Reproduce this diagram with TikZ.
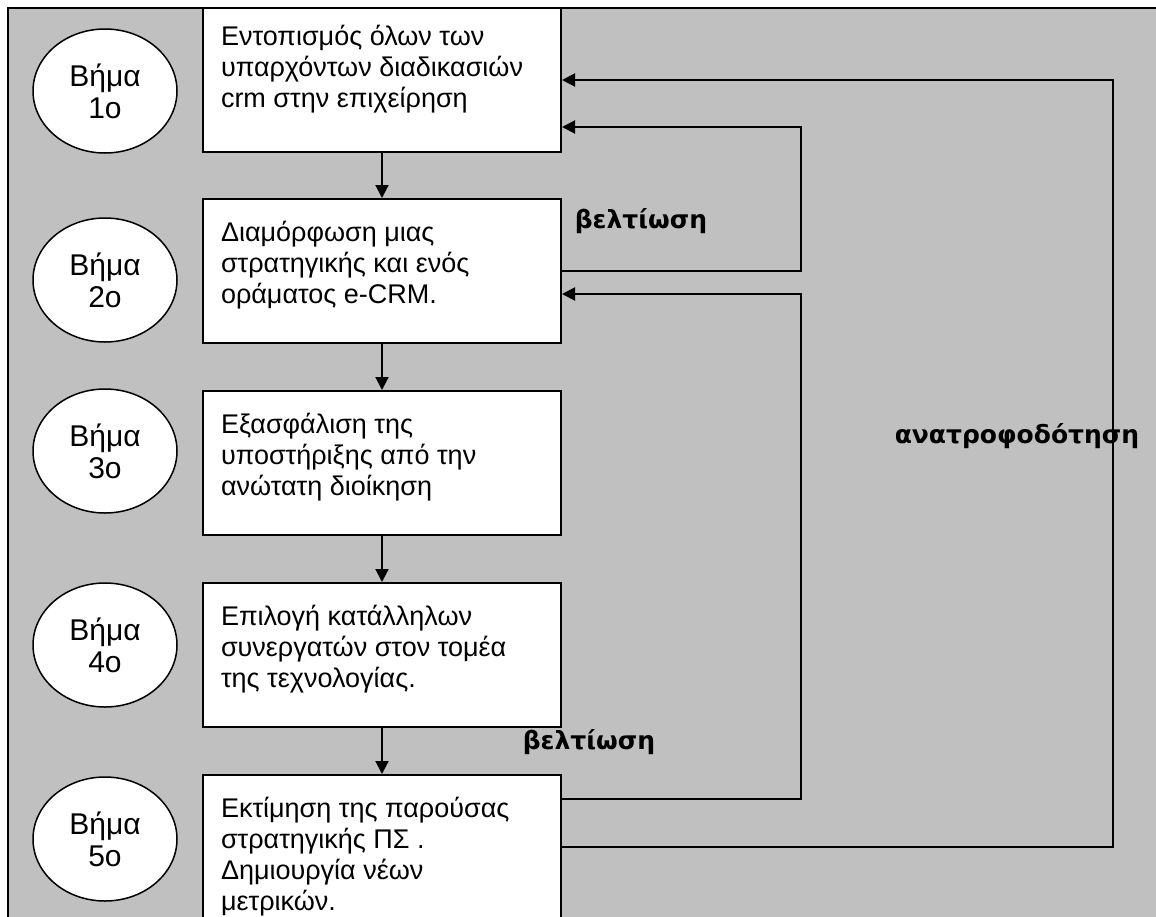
\documentclass[tikz,border=0pt]{standalone}
\usepackage{fontspec}
\setmainfont{Liberation Sans}
\newfontfamily\labelfont{DejaVu Sans}
\usetikzlibrary{arrows.meta,shapes.geometric}

\definecolor{bggray}{HTML}{C0C0C0}
\newcommand{\boxtext}[2][21pt]{\parbox[c][144pt][t]{322pt}{\vspace*{#1}\strut #2}}

\begin{document}
\begin{tikzpicture}[x=1pt, y=-1pt,
	stepbox/.style={draw=black, fill=white, line width=2pt, minimum width=358pt, inner xsep=18pt, inner ysep=0pt, font=\fontsize{27}{31}\selectfont},
	stepcirc/.style={shape=ellipse, draw=black, fill=white, line width=1.5pt, minimum width=144pt, minimum height=124pt, inner sep=0pt, align=center, font=\fontsize{30}{32}\selectfont},
	arr/.style={-{Triangle[length=13pt,width=13pt]}, line width=2pt},
	fblabel/.style={font=\labelfont\bfseries\fontsize{25}{28}\selectfont}]

	\path[use as bounding box, clip] (0,0) rectangle (1156,916);
	\draw[fill=bggray, line width=2pt] (8,8) rectangle (1200,1000);

	\node[stepbox] (b1) at (382,80)  {\boxtext[16pt]{Εντοπισμός όλων των\\υπαρχόντων διαδικασιών\\crm στην επιχείρηση}};
	\node[stepbox] (b2) at (382,271) {\boxtext{Διαμόρφωση μιας\\στρατηγικής και ενός\\οράματος e-CRM.}};
	\node[stepbox] (b3) at (382,463) {\boxtext{Εξασφάλιση της\\υποστήριξης από την\\ανώτατη διοίκηση}};
	\node[stepbox] (b4) at (382,655) {\boxtext{Επιλογή κατάλληλων\\συνεργατών στον τομέα\\της τεχνολογίας.}};
	\node[stepbox] (b5) at (382,847) {\boxtext{Εκτίμηση της παρούσας\\στρατηγικής ΠΣ .\\Δημιουργία νέων\\μετρικών.}};

	\node[stepcirc] (s1) at (105,91)  {Βήμα\\1ο};
	\node[stepcirc] (s2) at (105,280) {Βήμα\\2ο};
	\node[stepcirc] (s3) at (105,451) {Βήμα\\3ο};
	\node[stepcirc] (s4) at (105,645) {Βήμα\\4ο};
	\node[stepcirc] (s5) at (105,839) {Βήμα\\5ο};

	\node[fblabel] (l1) at (641,221)  {βελτίωση};
	\node[fblabel] (l2) at (589,742)  {βελτίωση};
	\node[fblabel] (l3) at (1017,436) {ανατροφοδότηση};

	\coordinate (in1) at (801,127);
	\coordinate (in2) at (801,294);
	\coordinate (out1) at (1113,80);

	\draw[arr] (b1) -- (b2);
	\draw[arr] (b2) -- (b3);
	\draw[arr] (b3) -- (b4);
	\draw[arr] (b4) -- (b5);

	\draw[arr] (b2.east) -| (in1) -- ([yshift=-47pt]b1.east);
	\draw[arr] ([yshift=48pt]b5.east) -| (in2) -- ([yshift=-23pt]b2.east);
	\draw[arr] (b5.east) -| (out1) -- (b1.east);

\end{tikzpicture}
\end{document}
